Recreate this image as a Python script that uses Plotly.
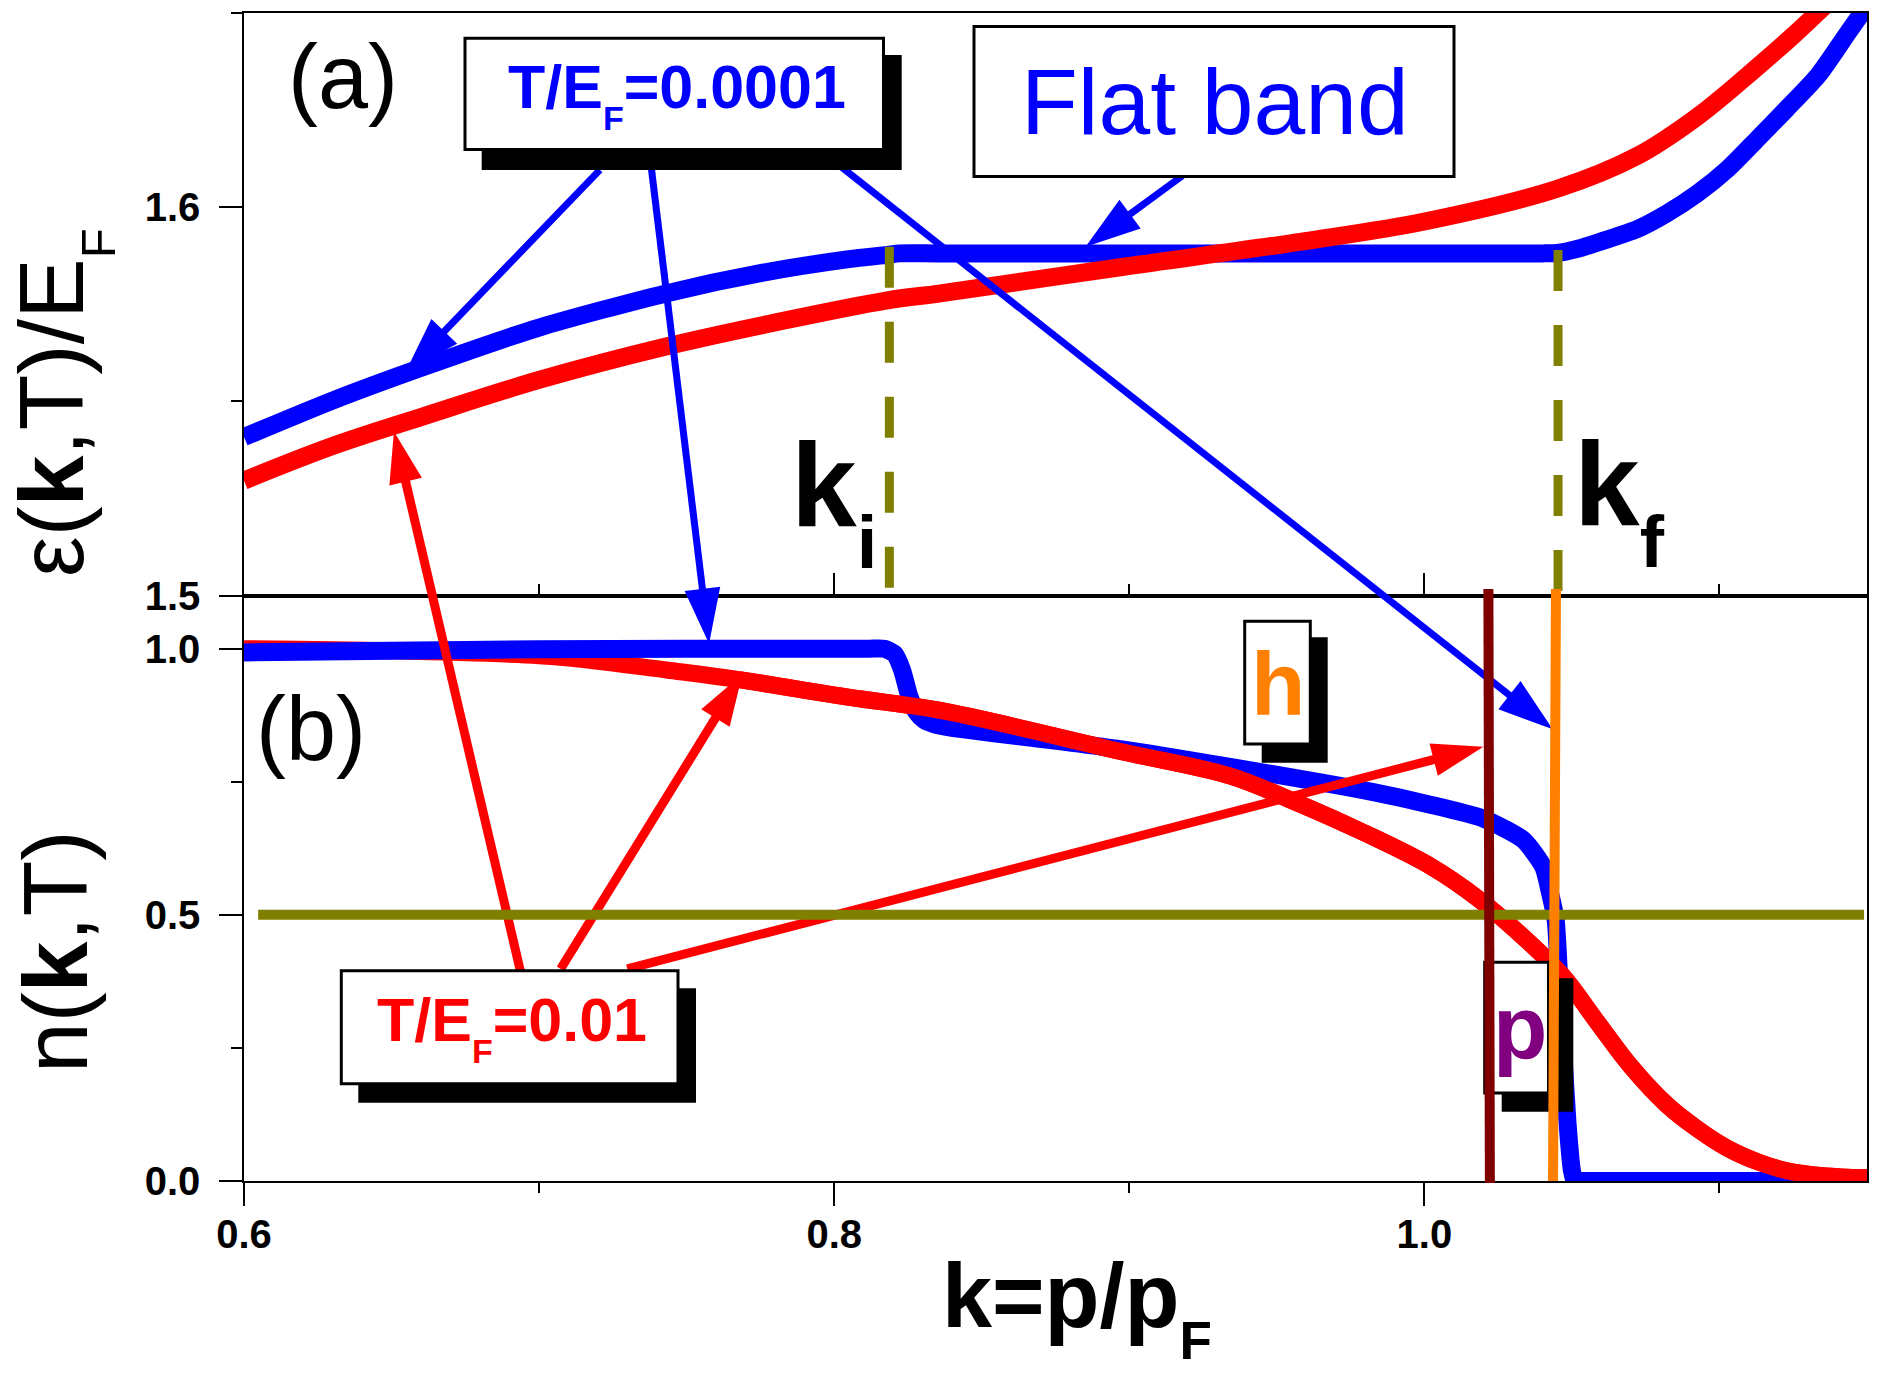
import plotly.graph_objects as go

# ---------------- data ----------------
# panel (a): eps(k,T)/E_F
k_a_lowT = [0.600, 0.630, 0.661, 0.700, 0.743, 0.775, 0.805, 0.818, 0.822, 0.835, 0.880, 0.940,
            1.000, 1.030, 1.040, 1.045, 1.052, 1.060, 1.072, 1.082, 1.0925, 1.103, 1.113, 1.123,
            1.1335, 1.1438, 1.152]
eps_lowT = [1.5408, 1.5502, 1.5589, 1.5690, 1.5778, 1.5830, 1.5866, 1.5877, 1.5881, 1.5881, 1.5881,
            1.5881, 1.5881, 1.5881, 1.5881, 1.5882, 1.5893, 1.5912, 1.5943, 1.5983, 1.6035, 1.6100,
            1.6177, 1.6255, 1.6340, 1.6452, 1.6540]
k_a_highT = [0.600, 0.630, 0.661, 0.700, 0.743, 0.780, 0.818, 0.836, 0.8975, 0.959, 1.000,
             1.0453, 1.0719, 1.0925, 1.113, 1.125, 1.137]
eps_highT = [1.5296, 1.5385, 1.5462, 1.5555, 1.5641, 1.5703, 1.5760, 1.5778, 1.5846, 1.5912, 1.5963,
             1.6048, 1.6131, 1.6233, 1.6362, 1.6442, 1.6528]

# panel (b): n(k,T)
k_b_lowT = [0.600, 0.650, 0.700, 0.750, 0.780, 0.800, 0.812, 0.817, 0.8205, 0.823, 0.8255, 0.828,
            0.8305, 0.834, 0.8395, 0.8975, 0.9341, 0.9827, 1.0020, 1.0200, 1.0335, 1.0403, 1.0426,
            1.0445, 1.0455, 1.0470, 1.0485, 1.0500, 1.0510, 1.0540, 1.0700, 1.1000, 1.150]
n_lowT = [0.993, 0.996, 0.999, 1.000, 1.000, 1.000, 1.000, 1.000, 0.990, 0.960, 0.910, 0.880,
          0.866, 0.858, 0.852, 0.811, 0.778, 0.7305, 0.707, 0.681, 0.641, 0.590, 0.541,
          0.490, 0.400, 0.250, 0.110, 0.020, 0.000, 0.000, 0.000, 0.000, 0.000]
k_b_highT = [0.600, 0.650, 0.700, 0.7124, 0.7432, 0.7678, 0.8047, 0.8359, 0.8975, 0.9341, 0.9567,
             0.9793, 1.0019, 1.0188, 1.0358, 1.0471, 1.0584, 1.0700, 1.0822, 1.0925, 1.1027, 1.1130,
             1.1233, 1.1350, 1.1500]
n_highT = [1.000, 0.996, 0.987, 0.981, 0.960, 0.942, 0.909, 0.884, 0.8065, 0.761, 0.711,
           0.655, 0.592, 0.528, 0.4465, 0.384, 0.300, 0.215, 0.143, 0.098, 0.0616, 0.036,
           0.0186, 0.010, 0.006]

# markers
k_i = 0.8187
k_f = 1.0453
eps_marker_top = [1.5898, 1.5890]
n_half = 0.5
k_half_line = [0.6048, 1.149]
k_p_line = [1.0217, 1.0222]   # (top, bottom)
k_h_line = [1.0446, 1.0436]   # (top, bottom)

# annotation arrows: (panel, k, value)
lowT_tails = [("a", 0.7206, 1.6096), ("a", 0.7381, 1.6097), ("a", 0.8018, 1.6107)]
lowT_heads = [("a", 0.6549, 1.5578), ("b", 0.7576, 1.0095), ("b", 1.0435, 0.8486)]
flat_tails = [("a", 0.9180, 1.6081)]
flat_heads = [("a", 0.8852, 1.5898)]
highT_tails = [("b", 0.6939, 0.3888), ("b", 0.7073, 0.3984), ("b", 0.7299, 0.3984)]
highT_heads = [("a", 0.6508, 1.5422), ("b", 0.7689, 0.9519), ("b", 1.0200, 0.8159)]

x_range = [0.6, 1.15]
ya_range = [1.5, 1.65]
yb_range = [0.0, 1.1]

# ---------------- layout geometry ----------------
FONT = "Liberation Sans, Arial, sans-serif"
BLUE, RED, OLIVE = "#0000FF", "#FF0000", "#808000"
MAROON, ORANGE, PURPLE = "#800000", "#FF8000", "#800080"

W, H = 1890, 1379
ML, MR, MT, MB = 244, 23, 13, 198
PW = W - ML - MR
PH = H - MT - MB
SPLIT_PX = 595.5
D = (MT + PH - SPLIT_PX) / PH
Y3MAX = yb_range[1] / D


def px(xp):
    return (xp - ML) / PW


def py(yp):
    return (MT + PH - yp) / PH


def to_y3(panel, v):
    if panel == "b":
        return v
    return yb_range[1] + (v - ya_range[0]) / (ya_range[1] - ya_range[0]) * (Y3MAX - yb_range[1])


def sub(t, size):
    return "<sub><sub><span style='font-size:%dpx'>%s</span></sub></sub>" % (size, t)


fig = go.Figure()


def curve(xs, ys, xa, ya, color, width, smoothing):
    fig.add_trace(go.Scatter(x=xs, y=ys, xaxis=xa, yaxis=ya, mode="lines",
                             line=dict(color=color, width=width, shape="spline",
                                       smoothing=smoothing),
                             hoverinfo="skip", showlegend=False))


# panel (a)
curve(k_a_lowT, eps_lowT, "x2", "y2", BLUE, 18, 0.7)
curve(k_a_highT, eps_highT, "x2", "y2", RED, 18, 1.0)
# panel (b): red under blue at small k, red over blue where they overlap further right
curve(k_b_highT, n_highT, "x", "y", RED, 17, 1.0)
curve(k_b_lowT, n_lowT, "x", "y", BLUE, 18, 0.6)
i0 = next(i for i, k in enumerate(k_b_highT) if k >= 0.76)
curve(k_b_highT[i0:], n_highT[i0:], "x", "y", RED, 17, 1.0)


def add_arrows(tails, heads, color, width, size):
    for t, h in zip(tails, heads):
        fig.add_trace(go.Scatter(
            x=[t[1], h[1]], y=[to_y3(t[0], t[2]), to_y3(h[0], h[2])],
            xaxis="x3", yaxis="y3", mode="lines+markers",
            line=dict(color=color, width=width),
            marker=dict(symbol="arrow", size=[0, size], angleref="previous", opacity=1,
                        color=color, line=dict(width=0)),
            hoverinfo="skip", showlegend=False))


add_arrows(lowT_tails, lowT_heads, BLUE, 7, 58)
add_arrows(flat_tails, flat_heads, BLUE, 7, 58)
add_arrows(highT_tails, highT_heads, RED, 9, 54)

shapes = []
# n = 1/2 line
shapes.append(dict(type="line", xref="x", yref="y", x0=k_half_line[0], x1=k_half_line[1],
                   y0=n_half, y1=n_half, line=dict(color=OLIVE, width=10), layer="above"))
# k_i, k_f dashed markers
for kk, top in zip([k_i, k_f], eps_marker_top):
    shapes.append(dict(type="line", xref="x2", yref="y2", x0=kk, x1=kk, y0=top, y1=ya_range[0],
                       line=dict(color=OLIVE, width=9, dash="41px,34px"), layer="above"))


def box(x0, y0, x1, y1, shadow=None):
    if shadow is not None:
        sx0, sy0, sx1, sy1 = shadow
        shapes.append(dict(type="rect", xref="paper", yref="paper", x0=px(sx0), x1=px(sx1),
                           y0=py(sy1), y1=py(sy0), fillcolor="black", line=dict(width=0),
                           layer="above"))
    shapes.append(dict(type="rect", xref="paper", yref="paper", x0=px(x0), x1=px(x1),
                       y0=py(y1), y1=py(y0), fillcolor="white",
                       line=dict(color="black", width=3), layer="above"))


box(465, 38.2, 883.5, 149.5, shadow=(481.7, 55, 901.7, 170))
box(974, 26.4, 1454, 176.4)
box(341.3, 970.7, 678, 1083.7, shadow=(358.3, 988.3, 696, 1102.7))
box(1244.7, 621.3, 1310.3, 744, shadow=(1261.7, 637.3, 1327.7, 762.7))
box(1484.7, 962.3, 1548.5, 1093, shadow=(1501.7, 978.3, 1573.3, 1111.7))

# vertical Fermi-surface markers (drawn over the p box)
top_paper = py(589)
shapes.append(dict(type="line", xref="x", yref="paper", x0=k_p_line[0], x1=k_p_line[1],
                   y0=top_paper, y1=py(1183), line=dict(color=MAROON, width=10), layer="above"))
shapes.append(dict(type="line", xref="x", yref="paper", x0=k_h_line[0], x1=k_h_line[1],
                   y0=top_paper, y1=py(1181), line=dict(color=ORANGE, width=10), layer="above"))

annotations = []


def label(text, xl, yt, size, color="black", bold=False, **kw):
    f = dict(family=FONT, size=size, color=color)
    if bold:
        f["weight"] = "bold"
    d = dict(text=text, x=px(xl), y=py(yt), xref="paper", yref="paper", showarrow=False,
             xanchor="left", yanchor="top", font=f, borderpad=0, borderwidth=0)
    d.update(kw)
    annotations.append(d)


label("T/E" + sub("F", 34) + "=0.0001", 508, 53, 61, BLUE, True)
label("Flat band", 1020.6, 50, 93, BLUE)
label("T/E" + sub("F", 34) + "=0.01", 377, 986, 61, RED, True)
label("h", 1250.5, 633.5, 89, ORANGE, True)
label("p", 1492.8, 977.4, 89, PURPLE, True)
label("(a)", 287.7, 27, 90)
label("(b)", 255.5, 679, 90)
label("k" + sub("i", 74), 791, 419.2, 118, bold=True)
label("k" + sub("f", 73), 1574.1, 417.6, 118, bold=True)
label("k=p/p" + sub("F", 53), 942, 1245.8, 90, bold=True)
label("ε(<b>k</b>,T)/E" + sub("F", 49), 1, 403, 91, textangle=-90, yanchor="middle")
label("n(<b>k</b>,T)", 4.6, 952, 91, textangle=-90, yanchor="middle")

tickfont = dict(family=FONT, size=40, color="black", weight="bold")
axis_common = dict(showline=True, linecolor="black", linewidth=1.5, mirror=True,
                   tickcolor="black", tickwidth=1.5, showgrid=False, zeroline=False)

fig.update_layout(
    width=W, height=H,
    margin=dict(l=ML, r=MR, t=MT, b=MB, pad=0),
    paper_bgcolor="white", plot_bgcolor="rgba(0,0,0,0)",
    showlegend=False,
    xaxis=dict(domain=[0, 1], range=x_range, anchor="y", ticks="outside", ticklen=23,
               tick0=0.6, dtick=0.2, tickformat=".1f", tickfont=tickfont, ticklabelstandoff=-6,
               minor=dict(ticks="outside", ticklen=10, tickwidth=1.5, tickcolor="black",
                          tick0=0.6, dtick=0.1),
               **axis_common),
    yaxis=dict(domain=[0, D], range=yb_range, anchor="x", ticks="outside", ticklen=23,
               tick0=0, dtick=0.5, tickformat=".1f", tickfont=tickfont, ticklabelstandoff=11,
               minor=dict(ticks="outside", ticklen=11, tickwidth=1.5, tickcolor="black",
                          tick0=0, dtick=0.25),
               **axis_common),
    xaxis2=dict(domain=[0, 1], range=x_range, anchor="y2", ticks="inside", ticklen=23,
                tick0=0.6, dtick=0.2, showticklabels=False,
                minor=dict(ticks="inside", ticklen=12, tickwidth=1.5, tickcolor="black",
                           tick0=0.6, dtick=0.1),
                **axis_common),
    yaxis2=dict(domain=[D, 1], range=ya_range, anchor="x2", ticks="outside", ticklen=23,
                tick0=1.5, dtick=0.1, tickformat=".1f", tickfont=tickfont, ticklabelstandoff=11,
                minor=dict(ticks="outside", ticklen=11, tickwidth=1.5, tickcolor="black",
                           tick0=1.5, dtick=0.05),
                **axis_common),
    xaxis3=dict(domain=[0, 1], range=x_range, anchor="y3", visible=False, fixedrange=True),
    yaxis3=dict(domain=[0, 1], range=[0, Y3MAX], anchor="x3", visible=False, fixedrange=True),
    shapes=shapes,
    annotations=annotations,
)

fig.write_html("out.html", config={"displayModeBar": False},
               post_script="document.body.style.margin='0px';")
